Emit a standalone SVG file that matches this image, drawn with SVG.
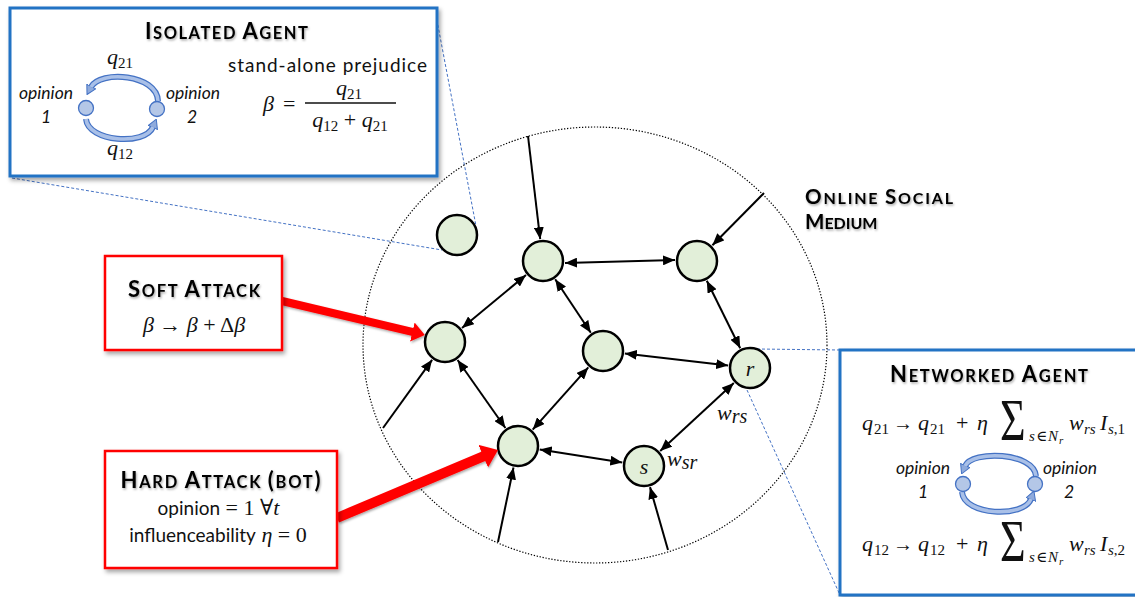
<svg xmlns="http://www.w3.org/2000/svg" width="1135" height="597" viewBox="0 0 1135 597">
  <defs>
    <style>
      .node { fill: #e2efd9; stroke: #000; stroke-width: 2.5; }
      .edge { stroke: #000; stroke-width: 2; fill: none; marker-end: url(#ah); }
      .bi { marker-start: url(#ah); }
      .zoom { stroke: #4472c4; stroke-width: 1; stroke-dasharray: 3 2; fill: none; }
      .medium { fill: none; stroke: #000; stroke-width: 1.2; stroke-dasharray: 1.3 1.7; }
      .bluebox { fill: #fff; stroke: #2373c4; stroke-width: 3; }
      .redbox { fill: #fff; stroke: #ff0000; stroke-width: 2.5; }
      .attack { stroke: #ff0000; fill: none; marker-end: url(#ra); }
      .st { fill: #b4c7e7; stroke: #4472c4; stroke-width: 1.3; }
      .arcout { fill: none; stroke: #4472c4; stroke-width: 6; marker-end: url(#ba); }
      .arcin { fill: none; stroke: #a9c0e8; stroke-width: 3.5; }
      .t { font-family: Lato, "Open Sans", "Liberation Sans", sans-serif; font-weight: 700; font-size: 16.5px; fill: #000; }
      .cap { font-size: 22px; }
      .lbl { font-size: 16px; }
      .lbl .cap { font-size: 20.5px; }
      .s { font-family: Lato, "Open Sans", "Liberation Sans", sans-serif; font-size: 19px; fill: #111; }
      .op { font-family: Lato, "Open Sans", "Liberation Sans", sans-serif; font-style: italic; font-size: 17.5px; fill: #111; }
      .m { font-family: "Liberation Serif", "DejaVu Serif", serif; font-size: 22px; fill: #111; }
      .sum { font-family: "Liberation Serif", "DejaVu Serif", serif; font-size: 44px; fill: #111; }
      .i { font-style: italic; }
      .sb { font-size: 15px; }
      .ssb { font-size: 11px; }
    </style>
    <marker id="ah" viewBox="0 0 12 10" markerUnits="userSpaceOnUse" markerWidth="12" markerHeight="10" refX="12" refY="5" orient="auto-start-reverse">
      <path d="M0,0 L12,5 L0,10 z" fill="#000"/>
    </marker>
    <marker id="ra" viewBox="0 0 13 20" markerUnits="strokeWidth" markerWidth="1.6" markerHeight="2.5" refX="1" refY="10" orient="auto">
      <path d="M0,0 L13,10 L0,20 z" fill="#ff0000"/>
    </marker>
    <marker id="ba" viewBox="0 0 10 11" markerUnits="userSpaceOnUse" markerWidth="10" markerHeight="11" refX="1" refY="5.5" orient="auto">
      <path d="M0.5,0.5 L9.5,5.5 L0.5,10.5 z" fill="#8eaadc" stroke="#4472c4" stroke-width="1"/>
    </marker>
    <filter id="shadow" x="-10%" y="-10%" width="125%" height="130%">
      <feDropShadow dx="2" dy="3" stdDeviation="2" flood-color="#000" flood-opacity="0.35"/>
    </filter>
    <filter id="tshadow" x="-5%" y="-20%" width="115%" height="160%">
      <feDropShadow dx="1" dy="1.5" stdDeviation="1" flood-color="#000" flood-opacity="0.35"/>
    </filter>
  </defs>

  <rect width="1135" height="597" fill="#fff"/>

  <!-- zoom-out guide lines -->
  <g id="guides">
    <line class="zoom" x1="435" y1="10" x2="476" y2="226"/>
    <line class="zoom" x1="12" y1="178" x2="442" y2="250"/>
    <line class="zoom" x1="757" y1="349" x2="840" y2="350"/>
    <line class="zoom" x1="747" y1="390" x2="840" y2="595"/>
  </g>

  <!-- the online social medium boundary -->
  <ellipse id="medium" class="medium" cx="595" cy="345" rx="232" ry="218"/>

  <!-- network links -->
  <g id="connectors">
    <line class="edge bi" x1="565" y1="263" x2="675" y2="260"/>
    <line class="edge bi" x1="526" y1="275" x2="462" y2="328"/>
    <line class="edge bi" x1="555.2" y1="279.3" x2="590.8" y2="332.7"/>
    <line class="edge bi" x1="706.8" y1="280.7" x2="740.2" y2="348.3"/>
    <line class="edge bi" x1="624.8" y1="353.5" x2="728.2" y2="365.5"/>
    <line class="edge bi" x1="457.6" y1="360" x2="505.4" y2="428"/>
    <line class="edge bi" x1="588.3" y1="367.4" x2="532.7" y2="429.6"/>
    <line class="edge bi" x1="539.7" y1="449.4" x2="622.3" y2="462.6"/>
    <line class="edge bi" x1="660.2" y1="451.1" x2="733.8" y2="383.1"/>
    <line class="edge" x1="528" y1="136" x2="540.2" y2="239.2"/>
    <line class="edge" x1="764" y1="193" x2="712.4" y2="245.3"/>
    <line class="edge" x1="383" y1="428" x2="432.1" y2="359.8"/>
    <line class="edge" x1="498" y1="542" x2="513.5" y2="467.5"/>
    <line class="edge" x1="668" y1="550" x2="650" y2="487.1"/>
  </g>

  <!-- agents -->
  <g id="agent-isolated"><circle class="node" cx="457" cy="235" r="20"/></g>
  <g id="agent-a"><circle class="node" cx="543" cy="261" r="20"/></g>
  <g id="agent-b"><circle class="node" cx="697" cy="261" r="20"/></g>
  <g id="agent-c"><circle class="node" cx="445" cy="342" r="20"/></g>
  <g id="agent-d"><circle class="node" cx="603" cy="351" r="20"/></g>
  <g id="agent-r">
    <circle class="node" cx="750" cy="368" r="20"/>
    <text class="m i" x="750" y="376" text-anchor="middle" font-size="26">r</text>
  </g>
  <g id="agent-e"><circle class="node" cx="518" cy="446" r="20"/></g>
  <g id="agent-s">
    <circle class="node" cx="644" cy="466" r="20"/>
    <text class="m i" x="644" y="474" text-anchor="middle" font-size="26">s</text>
  </g>

  <!-- link weights -->
  <g id="weights">
    <text class="m i" x="717" y="420" font-size="28">w<tspan font-size="20" dy="3">rs</tspan></text>
    <text class="m i" x="667" y="466" font-size="28">w<tspan font-size="20" dy="3">sr</tspan></text>
  </g>

  <!-- attack arrows -->
  <g id="attacks" filter="url(#tshadow)">
    <line class="attack" stroke-width="8" x1="282" y1="301" x2="413.3" y2="332.2"/>
    <line class="attack" stroke-width="10" x1="337" y1="518" x2="484.4" y2="455.8"/>
  </g>

  <!-- isolated agent panel -->
  <g id="isolated-agent">
    <rect class="bluebox" x="10" y="8" width="427" height="168" filter="url(#shadow)"/>
    <text class="t" x="226.5" y="39" text-anchor="middle" textLength="163" filter="url(#tshadow)"><tspan class="cap">I</tspan>SOLATED <tspan class="cap">A</tspan>GENT</text>
    <path class="arcout" d="M158,101 C157,74 100,70 91,87"/>
    <path class="arcin" d="M158,101 C157,74 100,70 91,87"/>
    <path class="arcout" d="M86,119 C88,142 145,146 153,127"/>
    <path class="arcin" d="M86,119 C88,142 145,146 153,127"/>
    <circle class="st" cx="86" cy="108" r="7.5"/>
    <circle class="st" cx="157" cy="109" r="7.5"/>
    <text class="op" x="46" y="99" text-anchor="middle">opinion</text>
    <text class="op" x="46" y="123" text-anchor="middle">1</text>
    <text class="op" x="193" y="99" text-anchor="middle">opinion</text>
    <text class="op" x="192" y="123" text-anchor="middle">2</text>
    <text class="m" x="120" y="64" text-anchor="middle"><tspan class="i">q</tspan><tspan class="sb" dy="4">21</tspan></text>
    <text class="m" x="120" y="155" text-anchor="middle"><tspan class="i">q</tspan><tspan class="sb" dy="4">12</tspan></text>
    <text class="s" x="327.5" y="72" text-anchor="middle" textLength="199">stand-alone prejudice</text>
    <text class="m" x="263" y="111"><tspan class="i">β</tspan><tspan x="283">=</tspan></text>
    <line x1="305" y1="103" x2="396" y2="103" stroke="#111" stroke-width="1.3"/>
    <text class="m" x="349" y="95" text-anchor="middle"><tspan class="i">q</tspan><tspan class="sb" dy="4">21</tspan></text>
    <text class="m" x="350" y="127" text-anchor="middle"><tspan class="i">q</tspan><tspan class="sb" dy="4">12</tspan><tspan dy="-4"> + </tspan><tspan class="i">q</tspan><tspan class="sb" dy="4">21</tspan></text>
  </g>

  <!-- soft attack panel -->
  <g id="soft-attack">
    <rect class="redbox" x="105" y="256" width="177" height="94" filter="url(#shadow)"/>
    <text class="t" x="194" y="297" text-anchor="middle" textLength="132" filter="url(#tshadow)"><tspan class="cap">S</tspan>OFT <tspan class="cap">A</tspan>TTACK</text>
    <text class="m" x="194" y="332" text-anchor="middle" font-size="22"><tspan class="i">β</tspan> → <tspan class="i">β</tspan> + Δ<tspan class="i">β</tspan></text>
  </g>

  <!-- hard attack panel -->
  <g id="hard-attack">
    <rect class="redbox" x="105" y="451" width="232" height="117" filter="url(#shadow)"/>
    <text class="t" x="220.5" y="488" text-anchor="middle" textLength="200" filter="url(#tshadow)"><tspan class="cap">H</tspan>ARD <tspan class="cap">A</tspan>TTACK <tspan class="cap">(</tspan>BOT<tspan class="cap">)</tspan></text>
    <text x="218.5" y="515" text-anchor="middle"><tspan class="s">opinion</tspan><tspan class="m" font-size="21"> = 1 ∀<tspan class="i">t</tspan></tspan></text>
    <text x="218" y="542" text-anchor="middle"><tspan class="s">influenceability</tspan><tspan class="m" font-size="21"> <tspan class="i">η</tspan> = 0</tspan></text>
  </g>

  <!-- medium label -->
  <g id="medium-label" filter="url(#tshadow)">
    <text class="t lbl"><tspan x="805" y="204" textLength="148"><tspan class="cap">O</tspan>NLINE <tspan class="cap">S</tspan>OCIAL</tspan><tspan x="805" y="229"><tspan class="cap">M</tspan>EDIUM</tspan></text>
  </g>

  <!-- networked agent panel -->
  <g id="networked-agent">
    <rect class="bluebox" x="840" y="350" width="310" height="245" filter="url(#shadow)"/>
    <text class="t" x="989" y="382" text-anchor="middle" textLength="198" filter="url(#tshadow)"><tspan class="cap">N</tspan>ETWORKED <tspan class="cap">A</tspan>GENT</text>

    <text class="m">
      <tspan class="i" x="862" y="430">q</tspan><tspan class="sb" x="874" y="434">21</tspan>
      <tspan x="893" y="430" font-size="20">→</tspan>
      <tspan class="i" x="918" y="430">q</tspan><tspan class="sb" x="930" y="434">21</tspan>
      <tspan x="956" y="430">+</tspan>
      <tspan class="i" x="977" y="430">η</tspan>
    </text>
    <text class="sum" transform="translate(1000,440) scale(1,1.35)">Σ</text>
    <text class="m sb">
      <tspan class="i" x="1029" y="441">s</tspan><tspan x="1036" y="441">∈</tspan><tspan class="i" x="1048" y="441">N</tspan><tspan class="ssb i" x="1059" y="444">r</tspan>
    </text>
    <text class="m">
      <tspan class="i" x="1069" y="430">w</tspan><tspan class="sb i" x="1084" y="434">rs</tspan>
      <tspan class="i" x="1100" y="430">I</tspan><tspan class="sb" x="1108" y="434"><tspan class="i">s</tspan>,1</tspan>
    </text>

    <path class="arcout" d="M1036,476 C1034,452 972,450 965,466"/>
    <path class="arcin" d="M1036,476 C1034,452 972,450 965,466"/>
    <path class="arcout" d="M962,492 C964,516 1024,518 1031,499"/>
    <path class="arcin" d="M962,492 C964,516 1024,518 1031,499"/>
    <circle class="st" cx="963" cy="484" r="7.5"/>
    <circle class="st" cx="1035" cy="484" r="7.5"/>
    <text class="op" x="923" y="474" text-anchor="middle">opinion</text>
    <text class="op" x="923" y="498" text-anchor="middle">1</text>
    <text class="op" x="1070" y="474" text-anchor="middle">opinion</text>
    <text class="op" x="1069" y="498" text-anchor="middle">2</text>

    <text class="m">
      <tspan class="i" x="862" y="551">q</tspan><tspan class="sb" x="874" y="555">12</tspan>
      <tspan x="893" y="551" font-size="20">→</tspan>
      <tspan class="i" x="918" y="551">q</tspan><tspan class="sb" x="930" y="555">12</tspan>
      <tspan x="956" y="551">+</tspan>
      <tspan class="i" x="977" y="551">η</tspan>
    </text>
    <text class="sum" transform="translate(1000,561) scale(1,1.35)">Σ</text>
    <text class="m sb">
      <tspan class="i" x="1029" y="562">s</tspan><tspan x="1036" y="562">∈</tspan><tspan class="i" x="1048" y="562">N</tspan><tspan class="ssb i" x="1059" y="565">r</tspan>
    </text>
    <text class="m">
      <tspan class="i" x="1069" y="551">w</tspan><tspan class="sb i" x="1084" y="555">rs</tspan>
      <tspan class="i" x="1100" y="551">I</tspan><tspan class="sb" x="1108" y="555"><tspan class="i">s</tspan>,2</tspan>
    </text>
  </g>
</svg>
